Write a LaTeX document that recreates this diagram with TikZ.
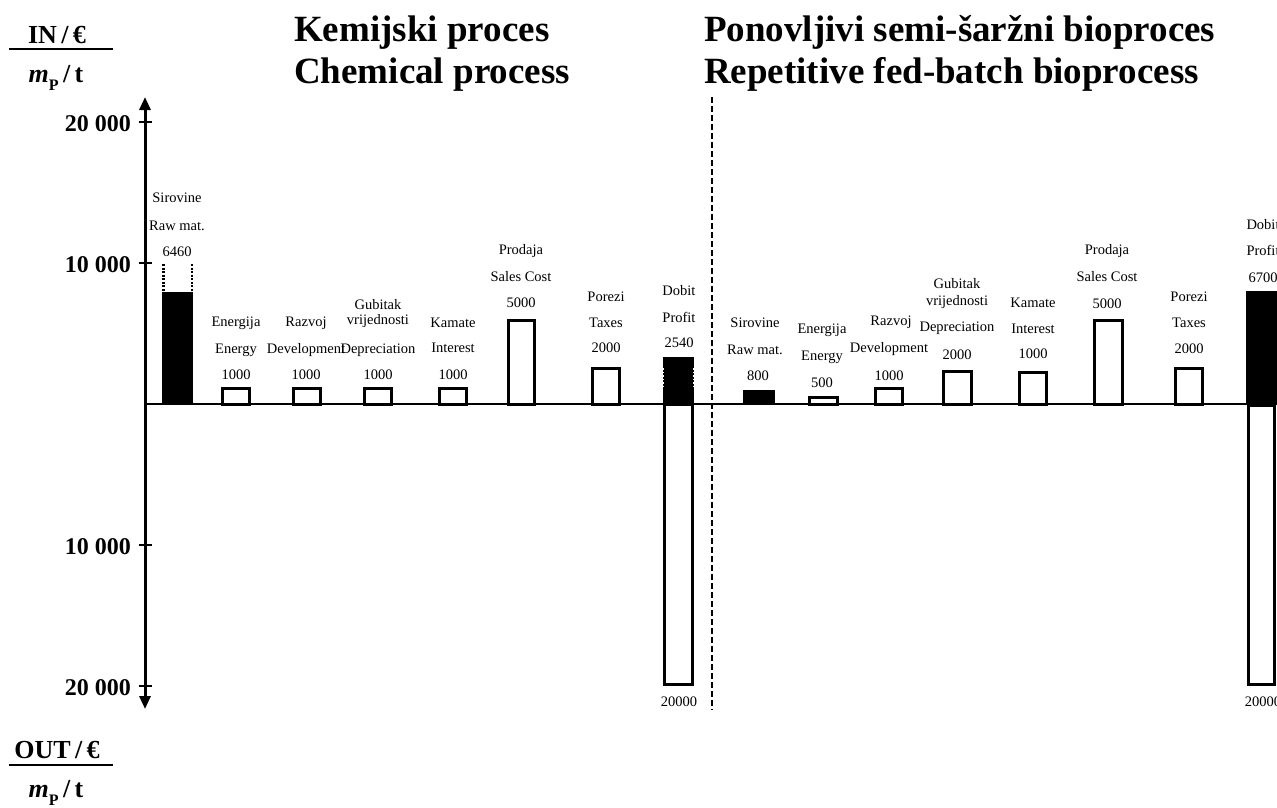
\documentclass[tikz,border=0pt]{standalone}
\usepackage{fontspec}
\setmainfont{Liberation Serif}
\usetikzlibrary{arrows.meta}
\begin{document}
\begin{tikzpicture}[x=1pt,y=-1pt,
  lbl/.style={inner sep=0pt, font=\fontsize{14.5}{16}\selectfont},
  head/.style={inner sep=0pt, anchor=base west, font=\bfseries\fontsize{37}{40}\selectfont},
  ticklbl/.style={inner sep=0pt, anchor=east, font=\bfseries\fontsize{24}{26}\selectfont},
  unitlbl/.style={inner sep=0pt, font=\bfseries\fontsize{26}{28}\selectfont},
  bar/.style={draw=black, fill=white, line width=3pt},
  blackbar/.style={fill=black},
  axisline/.style={line width=3pt, {Triangle[width=11pt,length=13pt]}-{Triangle[width=11pt,length=13pt]}},
  tickmark/.style={line width=2.5pt},
  zeroline/.style={line width=1.5pt},
  divider/.style={line width=2.5pt, dash pattern=on 6pt off 3pt},
  fracbar/.style={line width=1.5pt}
]
\useasboundingbox (0,0) rectangle (1277,807);
\clip (0,0) rectangle (1277,807);

% headings
\node[head] (hchem1) at (294,41) {Kemijski proces};
\node[head] (hchem2) at (294,83) {Chemical process};
\node[head] (hbio1) at (704,41) {Ponovljivi semi-šaržni bioproces};
\node[head] (hbio2) at (704,83) {Repetitive fed-batch bioprocess};

% units
\node[unitlbl] (inlbl) at (57,35) {IN\,/\,€};
\draw[fracbar] (9,49) -- (113,49);
\node[unitlbl] (inm) at (56,78) {\textit{m}\raisebox{-0.28em}{\fontsize{16}{16}\selectfont P}\,/\,t};
\node[unitlbl] (outlbl) at (57,750) {OUT\,/\,€};
\draw[fracbar] (9,765) -- (113,765);
\node[unitlbl] (outm) at (56,793) {\textit{m}\raisebox{-0.28em}{\fontsize{16}{16}\selectfont P}\,/\,t};

% zero line and divider
\coordinate (z0) at (145,404);
\coordinate (z1) at (1277,404);
\draw[zeroline] (z0) -- (z1);
\coordinate (d0) at (712,97);
\coordinate (d1) at (712,710);
\draw[divider] (d0) -- (d1);

% vertical axis
\coordinate (atop) at (145,97);
\coordinate (abot) at (145,709);
\draw[axisline] (abot) -- (atop);
\foreach \yy in {122,263,545,686} \draw[tickmark] (139,\yy) -- (152,\yy);
\node[ticklbl] (t1) at (131,124) {20 000};
\node[ticklbl] (t2) at (131,265) {10 000};
\node[ticklbl] (t3) at (131,547) {10 000};
\node[ticklbl] (t4) at (131,688) {20 000};

% ---- chemical process bars ----
\fill[blackbar] (162,292) rectangle (193,404);
\draw[line width=2.5pt, dash pattern=on 2pt off 1.5pt] (163.5,264) -- (163.5,292);
\draw[line width=2pt, dash pattern=on 2pt off 1.5pt] (192,264) -- (192,292);
\draw[bar] (222.5,404) rectangle (249.5,388.5);
\draw[bar] (293.5,404) rectangle (320.5,388.5);
\draw[bar] (364.5,404) rectangle (391.5,388.5);
\draw[bar] (439.5,404) rectangle (466.5,388.5);
\draw[bar] (508.5,404) rectangle (534.5,320.5);
\draw[bar] (592.5,404) rectangle (619.5,368.5);
\fill[blackbar] (663,357) rectangle (694,404);
\draw[white, line width=1.5pt, dash pattern=on 1.5pt off 2pt] (663.5,368) -- (663.5,386);
\draw[white, line width=1.5pt, dash pattern=on 1.5pt off 2pt] (693.5,368) -- (693.5,386);
\draw[bar] (664.5,404) rectangle (692.5,684.5);

% chemical labels
\node[lbl] (c1a) at (177,198) {Sirovine};
\node[lbl] (c1b) at (177,226) {Raw mat.};
\node[lbl] (c1c) at (177,252) {6460};
\node[lbl] (c2a) at (236,323) {Energija};
\node[lbl] (c2b) at (236,350) {Energy};
\node[lbl] (c2c) at (236,375) {1000};
\node[lbl] (c3a) at (306,323) {Razvoj};
\node[lbl] (c3b) at (306,350) {Development};
\node[lbl] (c3c) at (306,375) {1000};
\node[lbl] (c4a) at (378,305) {Gubitak};
\node[lbl] (c4b) at (378,321) {vrijednosti};
\node[lbl] (c4c) at (378,350) {Depreciation};
\node[lbl] (c4d) at (378,375) {1000};
\node[lbl] (c5a) at (453,323) {Kamate};
\node[lbl] (c5b) at (453,348) {Interest};
\node[lbl] (c5c) at (453,375) {1000};
\node[lbl] (c6a) at (521,251) {Prodaja};
\node[lbl] (c6b) at (521,277) {Sales Cost};
\node[lbl] (c6c) at (521,303) {5000};
\node[lbl] (c7a) at (606,297) {Porezi};
\node[lbl] (c7b) at (606,323) {Taxes};
\node[lbl] (c7c) at (606,348) {2000};
\node[lbl] (c8a) at (679,291) {Dobit};
\node[lbl] (c8b) at (679,317) {Profit};
\node[lbl] (c8c) at (679,343) {2540};
\node[lbl] (c8d) at (679,702) {20000};

% ---- fed-batch bioprocess bars ----
\fill[blackbar] (743,390) rectangle (775,404);
\draw[bar] (809.5,404) rectangle (837.5,397.5);
\draw[bar] (875.5,404) rectangle (902.5,388.5);
\draw[bar] (943.5,404) rectangle (971.5,371.5);
\draw[bar] (1019.5,404) rectangle (1046.5,372.5);
\draw[bar] (1094.5,404) rectangle (1122.5,320.5);
\draw[bar] (1175.5,404) rectangle (1202.5,368.5);
\fill[blackbar] (1246,291) rectangle (1290,404);
\draw[bar] (1248.5,405.5) rectangle (1274.5,684.5);

% bioprocess labels
\node[lbl] (b1a) at (755,323) {Sirovine};
\node[lbl] (b1b) at (755,350) {Raw mat.};
\node[lbl] (b1c) at (758,376) {800};
\node[lbl] (b2a) at (822,330) {Energija};
\node[lbl] (b2b) at (822,357) {Energy};
\node[lbl] (b2c) at (822,383) {500};
\node[lbl] (b3a) at (891,322) {Razvoj};
\node[lbl] (b3b) at (889,349) {Development};
\node[lbl] (b3c) at (889,376) {1000};
\node[lbl] (b4a) at (957,284) {Gubitak};
\node[lbl] (b4b) at (957,302) {vrijednosti};
\node[lbl] (b4c) at (957,328) {Depreciation};
\node[lbl] (b4d) at (957,355) {2000};
\node[lbl] (b5a) at (1033,303) {Kamate};
\node[lbl] (b5b) at (1033,329) {Interest};
\node[lbl] (b5c) at (1033,354) {1000};
\node[lbl] (b6a) at (1107,251) {Prodaja};
\node[lbl] (b6b) at (1107,277) {Sales Cost};
\node[lbl] (b6c) at (1107,304) {5000};
\node[lbl] (b7a) at (1189,297) {Porezi};
\node[lbl] (b7b) at (1189,323) {Taxes};
\node[lbl] (b7c) at (1189,349) {2000};
\node[lbl] (b8a) at (1263,225) {Dobit};
\node[lbl] (b8b) at (1263,250) {Profit};
\node[lbl] (b8c) at (1263,278) {6700};
\node[lbl] (b8d) at (1263,702) {20000};
\end{tikzpicture}
\end{document}
